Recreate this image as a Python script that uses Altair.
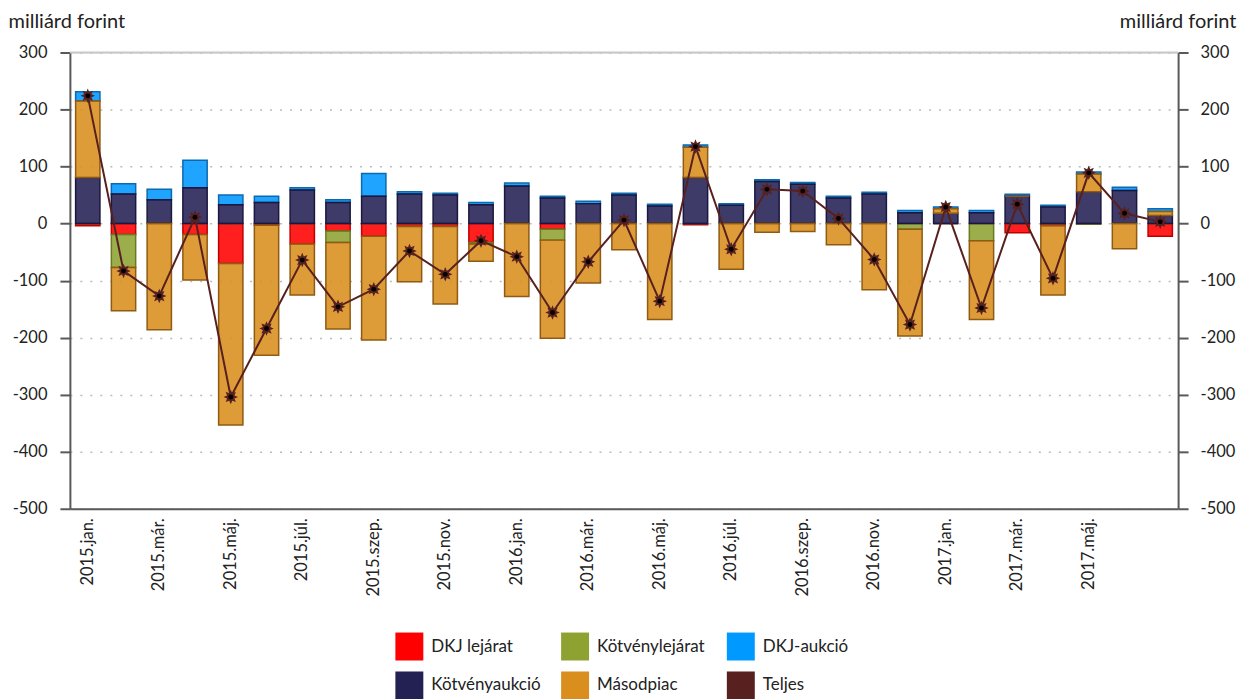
import math
import altair as alt
import pandas as pd

months = [
    "2015.jan.", "2015.feb.", "2015.már.", "2015.ápr.", "2015.máj.", "2015.jún.",
    "2015.júl.", "2015.aug.", "2015.szep.", "2015.okt.", "2015.nov.", "2015.dec.",
    "2016.jan.", "2016.feb.", "2016.már.", "2016.ápr.", "2016.máj.", "2016.jún.",
    "2016.júl.", "2016.aug.", "2016.szep.", "2016.okt.", "2016.nov.", "2016.dec.",
    "2017.jan.", "2017.feb.", "2017.már.", "2017.ápr.", "2017.máj.", "2017.jún.",
    "2017.júl.",
]
tick_months = months[0:30:2]

dkj_lejarat = [-4, -19, 0, -19, -70, -3, -36, -13, -22, -5, -5, -33, 0, -10, 0, 0,
               0, -2, 0, 0, 0, 0, 0, 0, 0, 0, -16, -4, 0, 0, -22]
kotveny_lejarat = [0, -58, 0, 0, 0, 0, 0, -20, 0, 0, 0, -3, 0, -19, 0, 0,
                   0, 0, 0, 0, 0, 0, 0, -10, 0, -30, 0, 0, -1, 0, 0]
dkj_aukcio = [16, 18, 18, 48, 17, 11, 4, 5, 40, 4, 3, 4, 5, 3, 4, 3,
              3, 4, 3, 3, 3, 3, 3, 4, 3, 4, 3.5, 3, 3.5, 5.5, 5]
kotveny_aukcio = [81, 52, 42, 63, 33, 37, 59, 37, 48, 52, 50, 33, 66, 45, 35, 50,
                  31, 81, 32, 74, 69, 45, 52, 19, 18, 19, 48, 29, 56, 58, 14]
masodpiac = [134, -76, -186, -80, -283, -228, -89, -152, -182, -97, -136, -30, -128, -172, -104, -46,
             -168, 53, -80, -15, -14, -37, -116, -187, 8, -138, 0, -121, 31, -44, 7]
teljes = [224, -83, -127, 11, -304, -184, -64, -146, -115, -48, -89, -30, -58, -156, -67, 6,
          -136, 135, -45, 60, 57, 9, -63, -177, 29, -148, 34, -96, 89, 18, 3]

y_ticks = [-500, -400, -300, -200, -100, 0, 100, 200, 300]

# legend is filled column by column: (DKJ lejárat, Kötvényaukció), (Kötvénylejárat, Másodpiac), (DKJ-aukció, Teljes)
series_names = ["DKJ lejárat", "Kötvényaukció", "Kötvénylejárat", "Másodpiac", "DKJ-aukció", "Teljes"]
series_colors = ["#FF0000", "#232054", "#8EA232", "#D98E1E", "#0099FF", "#58201F"]
series_strokes = ["#C00000", "#1A1840", "#6B7A20", "#8F5A12", "#0A6AB0", "#58201F"]
stack_order = {"DKJ lejárat": 0, "Kötvénylejárat": 1, "Kötvényaukció": 2, "Másodpiac": 3, "DKJ-aukció": 4}

series_values = {
    "DKJ lejárat": dkj_lejarat,
    "Kötvénylejárat": kotveny_lejarat,
    "DKJ-aukció": dkj_aukcio,
    "Kötvényaukció": kotveny_aukcio,
    "Másodpiac": masodpiac,
}

rows = []
for name, vals in series_values.items():
    for m, v in zip(months, vals):
        rows.append({"month": m, "series": name, "value": v, "ord": stack_order[name]})
bars_df = pd.DataFrame(rows)
line_df = pd.DataFrame({"month": months, "value": teljes})

FONT = "Lato"
TXT = "#222222"

# 8-pointed star marker path in the unit square
pts = []
for i in range(16):
    r = 1.0 if i % 2 == 0 else 0.55
    a = math.pi * i / 8 - math.pi / 2
    pts.append(f"{r * math.cos(a):.3f},{r * math.sin(a):.3f}")
star_path = "M" + "L".join(pts) + "Z"

x_enc = alt.X(
    "month:N", sort=months, title=None,
    scale=alt.Scale(paddingInner=0.32, paddingOuter=0.16),
    axis=alt.Axis(values=tick_months, labelAngle=-90, ticks=False, labelPadding=9,
                  labelFontSize=16.5, labelFont=FONT, labelColor=TXT,
                  domainColor="#595959", domainWidth=2, grid=False),
)
x_plain = alt.X("month:N", sort=months)
y_scale = alt.Scale(domain=[-500, 300], nice=False, zero=False)

bars = alt.Chart(bars_df).mark_bar(fillOpacity=0.88, strokeWidth=1.5).encode(
    x=x_enc,
    y=alt.Y("value:Q", stack="zero", scale=y_scale, title="milliárd forint",
            axis=alt.Axis(values=y_ticks, orient="left", tickSize=10, tickWidth=2,
                          tickColor="#595959", domainColor="#595959", domainWidth=2,
                          labelExpr="datum.value + ''",
                          labelFontSize=16.5, labelFont=FONT, labelColor=TXT, labelPadding=13,
                          grid=True, gridColor="#BBBBBB", gridDash=[2, 8], gridWidth=1.5,
                          titleAngle=0, titleAlign="left", titleBaseline="alphabetic",
                          titleX=-62, titleY=-25, titleFontSize=20, titleFont=FONT,
                          titleFontWeight="normal", titleColor=TXT)),
    color=alt.Color("series:N", scale=alt.Scale(domain=series_names, range=series_colors),
                    legend=alt.Legend(title=None, orient="none", legendX=326, legendY=581,
                                      columns=3, gridAlign="all", columnPadding=20, rowPadding=11,
                                      symbolType="square", symbolSize=784, symbolOpacity=1,
                                      symbolStrokeWidth=0, labelFontSize=17, labelFont=FONT,
                                      labelColor=TXT, labelOffset=8, padding=0)),
    stroke=alt.Stroke("series:N", scale=alt.Scale(domain=series_names, range=series_strokes),
                      legend=None),
    order=alt.Order("ord:Q"),
)

right_axis = alt.Chart(line_df).mark_line(opacity=0).encode(
    x=x_plain,
    y=alt.Y("value:Q", scale=y_scale, title="milliárd forint",
            axis=alt.Axis(values=y_ticks, orient="right", tickSize=10, tickWidth=2,
                          tickColor="#595959", domainColor="#595959", domainWidth=2,
                          labelExpr="datum.value + ''",
                          labelFontSize=16.5, labelFont=FONT, labelColor=TXT, labelPadding=12,
                          grid=False,
                          titleAngle=0, titleAlign="right", titleBaseline="alphabetic",
                          titleX=58, titleY=-25, titleFontSize=20, titleFont=FONT,
                          titleFontWeight="normal", titleColor=TXT)),
)

top_rule = alt.Chart(pd.DataFrame({"y": [300]})).mark_rule(color="#C8C8C8", strokeWidth=2).encode(
    y=alt.Y("y:Q", scale=y_scale, axis=None)
)

line = alt.Chart(line_df).mark_line(color="#58201F", strokeWidth=2).encode(
    x=x_plain,
    y=alt.Y("value:Q", scale=y_scale, axis=None),
)
stars = alt.Chart(line_df).mark_point(shape=star_path, filled=True, size=210, color="#58201F",
                                      opacity=1).encode(
    x=x_plain,
    y=alt.Y("value:Q", scale=y_scale, axis=None),
)
dots = alt.Chart(line_df).mark_point(shape="circle", filled=True, size=24, color="#000000",
                                     opacity=1).encode(
    x=x_plain,
    y=alt.Y("value:Q", scale=y_scale, axis=None),
)

chart = alt.layer(top_rule, bars, right_axis, line, stars, dots).resolve_axis(
    y="independent"
).properties(
    width=1110, height=457,
    autosize=alt.AutoSizeParams(type="none"),
    padding={"left": 62, "top": 44, "right": 64, "bottom": 190},
).configure_view(stroke=None).configure(background="white")

chart.save("out.html", embed_options={"renderer": "svg", "actions": False})
